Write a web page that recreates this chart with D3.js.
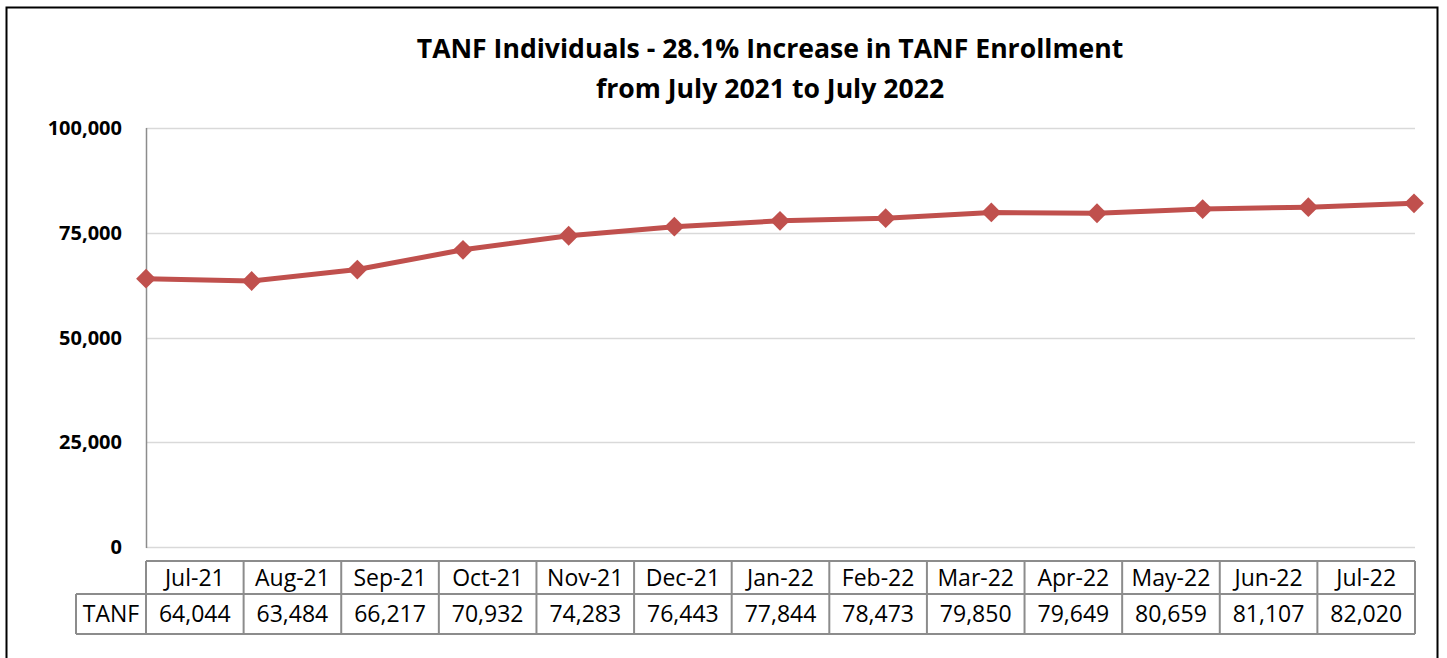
<!DOCTYPE html>
<html><head><meta charset="utf-8">
<script src="https://cdn.jsdelivr.net/npm/d3@7"></script>
<style>
html,body{margin:0;padding:0;background:#fff;}
svg{display:block;}
text{font-family:"Open Sans", Lato, sans-serif;}
</style></head>
<body>
<svg id="c" width="1447" height="658"></svg>
<script>
const months = ["Jul-21","Aug-21","Sep-21","Oct-21","Nov-21","Dec-21","Jan-22","Feb-22","Mar-22","Apr-22","May-22","Jun-22","Jul-22"];
const tanf = [64044,63484,66217,70932,74283,76443,77844,78473,79850,79649,80659,81107,82020];
const yTicks = [0,25000,50000,75000,100000];
const seriesName = "TANF";
const titleLines = ["TANF Individuals - 28.1% Increase in TANF Enrollment","from July 2021 to July 2022"];

const svg = d3.select("#c");
// outer border
svg.append("rect").attr("x",6.5).attr("y",7.5).attr("width",1431).attr("height",660)
  .attr("fill","none").attr("stroke","#000").attr("stroke-width",2);

const L=146, R=1414, T=128, B=547;
const x = d3.scalePoint().domain(months).range([L,R]);
const y = d3.scaleLinear().domain([0,100000]).range([B,T]);

// gridlines
svg.append("g").selectAll("line").data(yTicks).join("line")
  .attr("x1",L).attr("x2",R+1).attr("y1",d=>Math.round(y(d))+0.5).attr("y2",d=>Math.round(y(d))+0.5)
  .attr("stroke","#d9d9d9").attr("stroke-width",1.5);
// y axis line
svg.append("line").attr("x1",L+0.5).attr("x2",L+0.5).attr("y1",T).attr("y2",B+1)
  .attr("stroke","#8c8c8c").attr("stroke-width",1.5);

// y labels
const fmt = d3.format(",");
svg.append("g").selectAll("text").data(yTicks).join("text")
  .attr("x",122).attr("y",d=>y(d)).attr("dy","0.36em").attr("text-anchor","end")
  .attr("font-weight","bold").attr("font-size",20).attr("fill","#000")
  .text(d=>fmt(d));

// title
svg.append("g").selectAll("text").data(titleLines).join("text")
  .attr("x",770).attr("y",(d,i)=>58+i*40).attr("text-anchor","middle")
  .attr("font-weight","bold").attr("font-size",26.6).attr("fill","#000").text(d=>d);

// line
const line = d3.line().x((d,i)=>x(months[i])).y(d=>y(d));
svg.append("path").datum(tanf).attr("d",line).attr("fill","none")
  .attr("stroke","#C0504D").attr("stroke-width",5).attr("stroke-linejoin","round");
// diamonds
svg.append("g").selectAll("path").data(tanf).join("path")
  .attr("transform",(d,i)=>`translate(${x(months[i])},${y(d)})`)
  .attr("d",d3.symbol(d3.symbolDiamond2 || d3.symbolSquare2, 250)())
  .attr("fill","#C0504D");

// table
const tL=146, tR=1415, cw=(tR-tL)/months.length;
const r0=561, r1=594, r2=634, labL=76;
const tg = svg.append("g").attr("stroke","#8c8c8c").attr("stroke-width",2).attr("fill","none");
tg.append("line").attr("x1",tL).attr("x2",tR).attr("y1",r0).attr("y2",r0);
tg.append("line").attr("x1",labL).attr("x2",tR).attr("y1",r1).attr("y2",r1);
tg.append("line").attr("x1",labL).attr("x2",tR).attr("y1",r2).attr("y2",r2);
tg.append("line").attr("x1",labL).attr("x2",labL).attr("y1",r1).attr("y2",r2);
tg.selectAll("line.v").data(d3.range(months.length+1)).join("line").attr("class","v")
  .attr("x1",i=>tL+i*cw).attr("x2",i=>tL+i*cw).attr("y1",r0).attr("y2",r2);

const txt = svg.append("g").attr("font-size",23).attr("fill","#000").attr("text-anchor","middle");
txt.selectAll("text.m").data(months).join("text").attr("class","m")
  .attr("x",(d,i)=>tL+(i+0.5)*cw).attr("y",(r0+r1)/2).attr("dy","0.36em").text(d=>d);
txt.selectAll("text.v").data(tanf).join("text").attr("class","v")
  .attr("x",(d,i)=>tL+(i+0.5)*cw).attr("y",(r1+r2)/2).attr("dy","0.36em").text(d=>fmt(d));
txt.append("text").attr("x",(labL+tL)/2).attr("y",(r1+r2)/2).attr("dy","0.36em").text(seriesName);
</script>
</body></html>
